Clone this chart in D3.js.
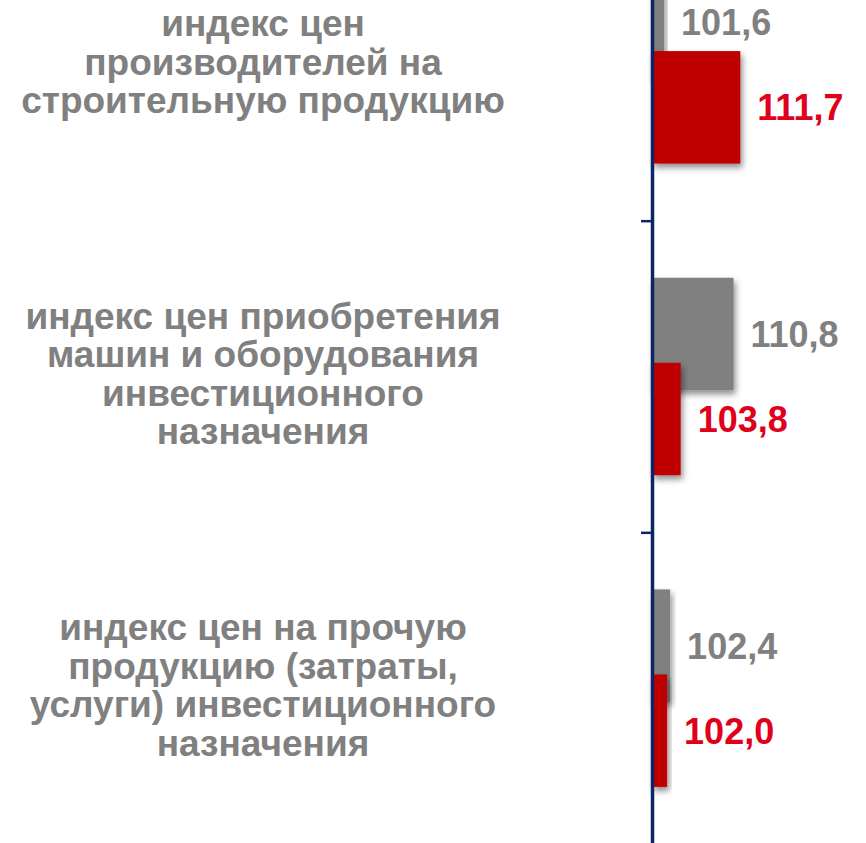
<!DOCTYPE html>
<html>
<head>
<meta charset="utf-8">
<script src="https://cdn.jsdelivr.net/npm/d3@7"></script>
<style>
  body { margin: 0; background: #fff; }
  svg { display: block; font-family: "Liberation Sans", Arial, sans-serif; }
</style>
</head>
<body>
<script>
const width = 866
const height = 843

// categories (top to bottom), each label already split into its lines
const categories = [
    ["индекс цен", "производителей на", "строительную продукцию"],
    ["индекс цен приобретения", "машин и оборудования", "инвестиционного", "назначения"],
    ["индекс цен на прочую", "продукцию (затраты,", "услуги) инвестиционного", "назначения"]
]
const series = ["grey", "red"]
const greyValues = [101.6, 110.8, 102.4]
const redValues = [111.7, 103.8, 102.0]

const barColor = {grey: "#808080", red: "#c00000"}
const textColor = {grey: "#808080", red: "#e0001b"}
const axisColor = "#0b2566"

const fmt = v => d3.format(".1f")(v).replace(".", ",")

let svg = d3.select("body")
    .append("svg")
    .attr("width", width)
    .attr("height", height)

let defs = svg.append("defs")
defs.append("filter")
    .attr("id", "shadow")
    .attr("x", "-30%").attr("y", "-30%")
    .attr("width", "160%").attr("height", "160%")
    .append("feDropShadow")
    .attr("dx", 2)
    .attr("dy", 4)
    .attr("stdDeviation", 3)
    .attr("flood-color", "#000")
    .attr("flood-opacity", 0.45)

let x = d3.scaleLinear()
    .domain([100, 112])
    .range([652, 652 + 12*7.55])

// the top group is partly cut off by the picture edge
let y = d3.scaleBand()
    .domain(d3.range(categories.length))
    .range([-91, 844])

let sub = d3.scalePoint()
    .domain(series)
    .range([-42.5, 42.5])

const barH = 112.5

let rows = categories.map((c, i) => ({
    i: i,
    lines: c,
    grey: greyValues[i],
    red: redValues[i]
}))

let groups = svg.selectAll(".group")
    .data(rows)
    .enter()
    .append("g")
    .attr("class", "group")
    .attr("transform", d => `translate(0,${y(d.i) + y.bandwidth()/2})`)

// bars: grey behind, red in front
series.forEach(s => {
    groups.append("rect")
        .attr("x", x(100))
        .attr("y", sub(s) - barH/2)
        .attr("width", d => x(d[s]) - x(100))
        .attr("height", barH)
        .attr("fill", barColor[s])
        .attr("filter", "url(#shadow)")
})

series.forEach(s => {
    groups.append("text")
        .attr("x", d => x(d[s]) + 17)
        .attr("y", sub(s) + 13)
        .attr("fill", textColor[s])
        .style("font-size", "36px")
        .style("font-weight", "bold")
        .text(d => fmt(d[s]))
})

// category labels
const lineH = 38.5
groups.append("text")
    .attr("text-anchor", "middle")
    .attr("fill", "#808080")
    .style("font-size", "37px")
    .style("font-weight", "bold")
    .selectAll("tspan")
    .data(d => d.lines.map((t, k) => ({t: t, k: k, n: d.lines.length})))
    .enter()
    .append("tspan")
    .attr("x", 263)
    .attr("y", d => (d.k - (d.n - 1)/2)*lineH + 10)
    .text(d => d.t)

// vertical axis with ticks between the groups
let yEdge = d3.scaleLinear()
    .domain([0, categories.length])
    .range(y.range())

let axis = svg.append("g")
    .attr("transform", `translate(${x(100)},0)`)
    .call(d3.axisLeft(yEdge)
        .tickValues(d3.range(1, categories.length + 1))
        .tickSize(11)
        .tickSizeOuter(0)
        .tickFormat(""))

axis.select(".domain")
    .attr("stroke", axisColor)
    .attr("stroke-width", 3.5)
axis.selectAll(".tick line")
    .attr("stroke", axisColor)
    .attr("stroke-width", 2.5)
</script>
</body>
</html>
